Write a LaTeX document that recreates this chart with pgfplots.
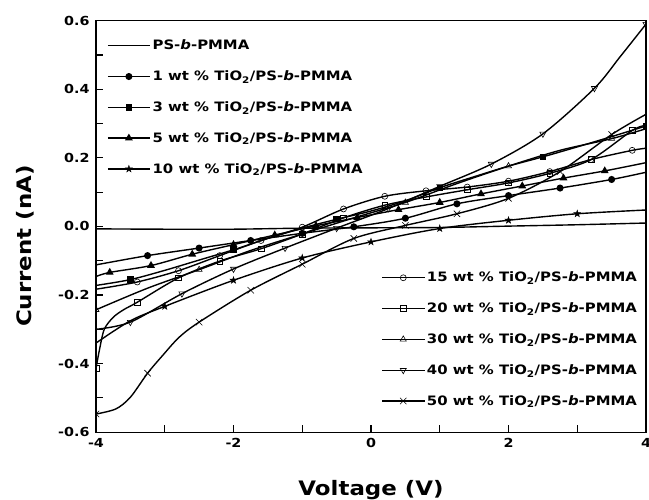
\documentclass[border=0pt]{standalone}
\usepackage{fontspec}
\setmainfont{DejaVu Sans}[FakeStretch=1.15]
\usepackage{pgfplots}
\pgfplotsset{compat=1.18}
\usetikzlibrary{plotmarks}

% filled five-point star
\pgfdeclareplotmark{fstar}{%
  \pgfpathmoveto{\pgfpointpolar{90}{1.3\pgfplotmarksize}}%
  \pgfpathlineto{\pgfpointpolar{126}{0.5\pgfplotmarksize}}%
  \pgfpathlineto{\pgfpointpolar{162}{1.3\pgfplotmarksize}}%
  \pgfpathlineto{\pgfpointpolar{198}{0.5\pgfplotmarksize}}%
  \pgfpathlineto{\pgfpointpolar{234}{1.3\pgfplotmarksize}}%
  \pgfpathlineto{\pgfpointpolar{270}{0.5\pgfplotmarksize}}%
  \pgfpathlineto{\pgfpointpolar{306}{1.3\pgfplotmarksize}}%
  \pgfpathlineto{\pgfpointpolar{342}{0.5\pgfplotmarksize}}%
  \pgfpathlineto{\pgfpointpolar{18}{1.3\pgfplotmarksize}}%
  \pgfpathlineto{\pgfpointpolar{54}{0.5\pgfplotmarksize}}%
  \pgfpathclose\pgfusepathqfillstroke}

\pgfplotsset{
  every axis plot/.append style={black, line width=1.4pt, smooth},
  base/.style={
    scale only axis, width=550bp, height=411.5bp,
    xmin=-4, xmax=4, ymin=-0.6, ymax=0.6,
    clip marker paths=true,
    legend cell align=left,
    legend image code/.code={\draw[mark indices={2}] plot coordinates {(0bp,0bp) (21bp,0bp) (42bp,0bp)};},
  },
  lg/.style={draw=none, fill=none, inner sep=0pt, row sep=15.5bp,
    font=\fontsize{13}{15}\selectfont\bfseries},
}
\newcommand{\tio}[1]{#1 wt \% TiO\textsubscript{2}/PS-\textit{b}-PMMA}

\begin{document}
\begin{tikzpicture}
\begin{axis}[base,
    xtick={-4,-2,0,2,4}, minor x tick num=1,
    ytick={-0.6,-0.4,-0.2,0,0.2,0.4,0.6}, minor y tick num=1,
    tick align=inside, xtick pos=bottom, ytick pos=left,
    major tick length=7bp, minor tick length=7bp,
    every tick/.style={black, line width=1.1pt},
    axis line style={line width=1.4pt},
    /pgf/number format/assume math mode=true,
    tick label style={font=\fontsize{12.5}{14}\selectfont\bfseries},
    xticklabel style={yshift=-3bp},
    yticklabel style={/pgf/number format/fixed, /pgf/number format/fixed zerofill,
      /pgf/number format/precision=1, xshift=-3bp},
    xlabel={Voltage (V)}, ylabel={Current (nA)},
    every axis x label/.style={at={(axis description cs:0.5,0)}, anchor=base, yshift=-63bp,
      font=\fontsize{20}{24}\selectfont\bfseries},
    every axis y label/.style={at={(axis description cs:-0.129,0.452)}, anchor=center, rotate=90,
      font=\fontsize{20}{24}\selectfont\bfseries},
    legend style={lg, at={(axis cs:-3.84,0.55)}, anchor=north west},
]
\coordinate (ll) at (rel axis cs:0,0);
\coordinate (ur) at (rel axis cs:1,1);

\addplot[no marks] coordinates {
  (-4,-0.007) (-3,-0.008) (-2,-0.008) (-1,-0.005) (0,-0.004)
  (1,-0.003) (2,0.001) (3,0.005) (4,0.01)};
\addlegendentry{PS-\textit{b}-PMMA}

\addplot[mark=*, mark size=2.8bp, mark indices={2,3,4,5,6,7,8,9,10,11}] coordinates {
  (-4,-0.112) (-3.25,-0.085) (-2.5,-0.063) (-1.75,-0.041) (-1,-0.02) (-0.25,-0.001)
  (0.5,0.024) (1.25,0.066) (2,0.09) (2.75,0.112) (3.5,0.137) (4,0.158)};
\addlegendentry{\tio{1}}

\addplot[mark=square*, mark size=2.5bp, mark indices={2,5,8,11,14,17}] coordinates {
  (-4,-0.172) (-3.5,-0.155) (-3,-0.128) (-2.5,-0.098) (-2,-0.068) (-1.5,-0.035)
  (-1,-0.005) (-0.5,0.021) (0,0.045) (0.5,0.075) (1,0.113) (1.5,0.145)
  (2,0.176) (2.5,0.203) (3,0.232) (3.5,0.262) (4,0.293)};
\addlegendentry{\tio{3}}

\addplot[mark=triangle*, mark size=3.2bp, mark indices={2,3,4,5,6,7,8,9,10,11,12,13,14}] coordinates {
  (-4,-0.146) (-3.8,-0.134) (-3.2,-0.114) (-2.6,-0.081) (-2,-0.053) (-1.4,-0.025)
  (-0.8,0.002) (-0.2,0.026) (0.4,0.049) (1,0.07) (1.6,0.095) (2.2,0.118)
  (2.8,0.141) (3.4,0.162) (4,0.186)};
\addlegendentry{\tio{5}}

\addplot[mark=fstar, mark size=2.8bp, mark options={line width=0.4pt}, mark indices={3,4,5,6,7,8,9}] coordinates {
  (-4,-0.34) (-3.5,-0.275) (-3,-0.233) (-2,-0.157) (-1,-0.092) (0,-0.045)
  (1,-0.006) (2,0.018) (3,0.037) (4,0.048)};
\addlegendentry{\tio{10}}
\end{axis}

\begin{axis}[base, hide axis,
    legend style={lg, at={(axis cs:3.9,-0.532)}, anchor=south east},
]
\addplot[mark=o, mark size=3bp, mark options={fill=white, line width=0.6pt}, mark indices={2,3,4,5,6,7,8,9,10,11,12,13,14}] coordinates {
  (-4,-0.183) (-3.4,-0.162) (-2.8,-0.129) (-2.2,-0.085) (-1.6,-0.041) (-1,-0.002)
  (-0.4,0.051) (0.2,0.088) (0.8,0.104) (1.4,0.115) (2,0.132) (2.6,0.16)
  (3.2,0.195) (3.8,0.222) (4,0.228)};
\addlegendentry{\tio{15}}

\addplot[mark=square, mark size=2.8bp, mark options={fill=white, line width=0.6pt}, mark indices={1,6,7,8,9,10,11,12,13,14,15,16,17,18}] coordinates {
  (-4,-0.414) (-3.95,-0.36) (-3.88,-0.30) (-3.75,-0.265) (-3.6,-0.243) (-3.4,-0.221)
  (-2.8,-0.15) (-2.2,-0.101) (-1.6,-0.065) (-1,-0.022) (-0.4,0.025) (0.2,0.062)
  (0.8,0.086) (1.4,0.107) (2,0.127) (2.6,0.155) (3.2,0.195) (3.8,0.28) (4,0.295)};
\addlegendentry{\tio{20}}

\addplot[mark=triangle, mark size=3.5bp, mark options={fill=white, line width=0.6pt}, mark indices={1,3,5,7,9,11}] coordinates {
  (-4,-0.243) (-3.25,-0.18) (-2.5,-0.126) (-1.75,-0.07) (-1,-0.022) (-0.25,0.025)
  (0.5,0.07) (1.25,0.125) (2,0.176) (2.75,0.222) (3.5,0.256) (4,0.285)};
\addlegendentry{\tio{30}}

\addplot[mark=triangle, mark size=3.5bp, mark options={fill=white, line width=0.6pt, rotate=180}, mark indices={2,3,4,5,6,7,8,9,10,11,13}] coordinates {
  (-4,-0.30) (-3.5,-0.279) (-2.75,-0.196) (-2,-0.124) (-1.25,-0.063) (-0.5,-0.005)
  (0.25,0.052) (1,0.117) (1.75,0.182) (2.5,0.27) (3.25,0.403) (3.62,0.494) (4,0.59)};
\addlegendentry{\tio{40}}

\addplot[mark=x, mark size=4.5bp, mark options={line width=0.6pt}, mark indices={1,4,7,8,9,10,11,12,13,14,15}] coordinates {
  (-4,-0.547) (-3.71,-0.532) (-3.5,-0.498) (-3.25,-0.428) (-3.03,-0.376) (-2.79,-0.323)
  (-2.5,-0.279) (-1.75,-0.186) (-1,-0.11) (-0.25,-0.035) (0.5,0.003) (1.25,0.037)
  (2,0.082) (2.75,0.16) (3.5,0.268) (4,0.327)};
\addlegendentry{\tio{50}}
\end{axis}

\pgfresetboundingbox
\path ([shift={(-96bp,-67bp)}]ll) rectangle ([shift={(3bp,20.7bp)}]ur);
\end{tikzpicture}
\end{document}
